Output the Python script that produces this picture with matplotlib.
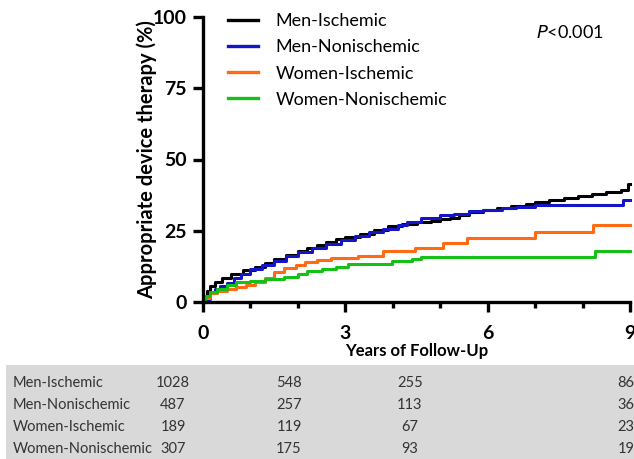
import matplotlib
matplotlib.use("Agg")
import matplotlib.pyplot as plt
from matplotlib.patches import Rectangle
import numpy as np

W, H = 634, 459

series_names = ["Men-Ischemic", "Men-Nonischemic", "Women-Ischemic", "Women-Nonischemic"]
colors = ["#000000", "#1515c8", "#ff6a13", "#17c017"]

t_men_isch = [0, 0.03, 0.08, 0.15, 0.25, 0.4, 0.6, 0.85, 1.1, 1.3, 1.5, 1.75, 2.0, 2.2, 2.4, 2.6, 2.8, 3.0,
              3.3, 3.6, 3.9, 4.2, 4.5, 4.8, 5.0, 5.2, 5.4, 5.6, 5.9, 6.2, 6.5, 6.8, 7.0, 7.3, 7.6, 7.9,
              8.2, 8.5, 8.8, 8.95, 9.0]
v_men_isch = [0, 2, 4, 5.5, 7, 8.5, 9.8, 11.2, 12.3, 13.7, 15, 16.5, 17.8, 19, 20, 21, 22, 22.8,
              24, 25.3, 26.5, 27.3, 28, 28.5, 29, 29.5, 30.5, 31.5, 32.3, 33, 33.8, 34.5, 35, 35.8, 36.5, 37.3,
              38, 38.6, 39.3, 41.5, 41.5]

t_men_non = [0, 0.1, 0.15, 0.25, 0.35, 0.5, 0.65, 0.8, 1.0, 1.25, 1.5, 1.75, 2.0, 2.3, 2.6, 2.9, 3.2,
             3.5, 3.8, 4.1, 4.3, 4.6, 5.0, 5.3, 5.6, 5.9, 6.3, 6.6, 7.0, 8.85, 9.0]
v_men_non = [0, 1, 3, 4.5, 5.5, 6.5, 8.5, 10, 11.5, 13, 14.5, 16, 17.5, 19, 20.5, 21.8, 23,
             24.5, 25.5, 27, 28, 29.5, 30.5, 31, 31.8, 32.3, 33, 33.3, 34, 35.8, 35.8]

t_wom_isch = [0, 0.05, 0.15, 0.3, 0.5, 0.7, 0.9, 1.1, 1.3, 1.5, 1.7, 1.95, 2.15, 2.4, 2.7, 3.27, 3.8,
              4.47, 5.06, 5.56, 7.0, 8.23, 9.0]
v_wom_isch = [0, 1.5, 3, 4, 4.7, 5.3, 6, 7, 8.5, 10.5, 11.8, 13, 14, 14.7, 15.4, 16.1, 17.9,
              18.9, 20.6, 22.5, 24.6, 27, 27]

t_wom_non = [0, 0.05, 0.15, 0.3, 0.5, 0.7, 1.0, 1.3, 1.7, 2.0, 2.2, 2.5, 2.8, 3.05, 3.98, 4.4, 4.6, 8.26, 9.0]
v_wom_non = [0, 2, 3.5, 4.5, 6, 7, 7.5, 8, 8.8, 10, 10.8, 11.5, 12.3, 13.3, 14.4, 15, 15.8, 17.9, 17.9]

risk_times = [0, 3, 6, 9]
risk_men_isch = [1028, 548, 255, 86]
risk_men_non = [487, 257, 113, 36]
risk_wom_isch = [189, 119, 67, 23]
risk_wom_non = [307, 175, 93, 19]

x_ticks = [0, 3, 6, 9]
y_ticks = [0, 25, 50, 75, 100]

plt.rcParams['font.family'] = ['Lato', 'DejaVu Sans']

fig = plt.figure(figsize=(W / 100, H / 100), dpi=100)
ax = fig.add_axes([203 / W, 1 - 302 / H, (630 - 203) / W, (302 - 17) / H])

curves = [(t_men_isch, v_men_isch), (t_men_non, v_men_non), (t_wom_isch, v_wom_isch), (t_wom_non, v_wom_non)]
for (t, v), c, name in zip(curves, colors, series_names):
    ax.step(t, v, where="post", color=c, lw=2.2, label=name, clip_on=False)

ax.set_xlim(0, 9)
ax.set_ylim(0, 100)
ax.set_xticks(x_ticks)
ax.set_xticks(np.arange(0, 10, 1), minor=True)
ax.set_yticks(y_ticks)
for s in ["top", "right"]:
    ax.spines[s].set_visible(False)
for s in ["left", "bottom"]:
    ax.spines[s].set_linewidth(2.4)
ax.tick_params(axis="both", which="major", length=7.5, width=2.4, labelsize=14)
ax.tick_params(axis="y", which="major", pad=4)
ax.tick_params(axis="x", which="major", pad=9)
ax.tick_params(axis="x", which="minor", length=4.5, width=2.4)
for lab in ax.get_xticklabels() + ax.get_yticklabels():
    lab.set_fontweight("bold")
ax.set_ylabel("Appropriate device therapy (%)", fontsize=14.5, fontweight="bold", labelpad=-3)
ax.set_xlabel("Years of Follow-Up", fontsize=12, fontweight="bold", labelpad=1)

leg = ax.legend(loc="upper left", bbox_to_anchor=(0.02, 1.07), frameon=False, fontsize=13,
                handlelength=1.65, handletextpad=1.0, labelspacing=0.56)
for line in leg.get_lines():
    line.set_linewidth(2.4)

ax.text(0.78, 0.947, r"$P$<0.001", transform=ax.transAxes, fontsize=13, va="center", ha="left")

# number-at-risk table
fig.patches.append(Rectangle((6 / W, 0), (W - 6) / W, (H - 365) / H, transform=fig.transFigure,
                             facecolor="#d9d9d9", edgecolor="none", zorder=0))
rows = [risk_men_isch, risk_men_non, risk_wom_isch, risk_wom_non]
row_y = [383, 405, 427, 449]
col_x = [173, 289, 410, 626]
for name, vals, yy in zip(series_names, rows, row_y):
    fig.text(13 / W, 1 - yy / H, name, fontsize=10.5, va="center", ha="left", color="#333333")
    for val, xx in zip(vals, col_x):
        fig.text(xx / W, 1 - yy / H, str(val), fontsize=10.5, va="center", ha="center", color="#333333")

fig.savefig("out.png", dpi=100)
